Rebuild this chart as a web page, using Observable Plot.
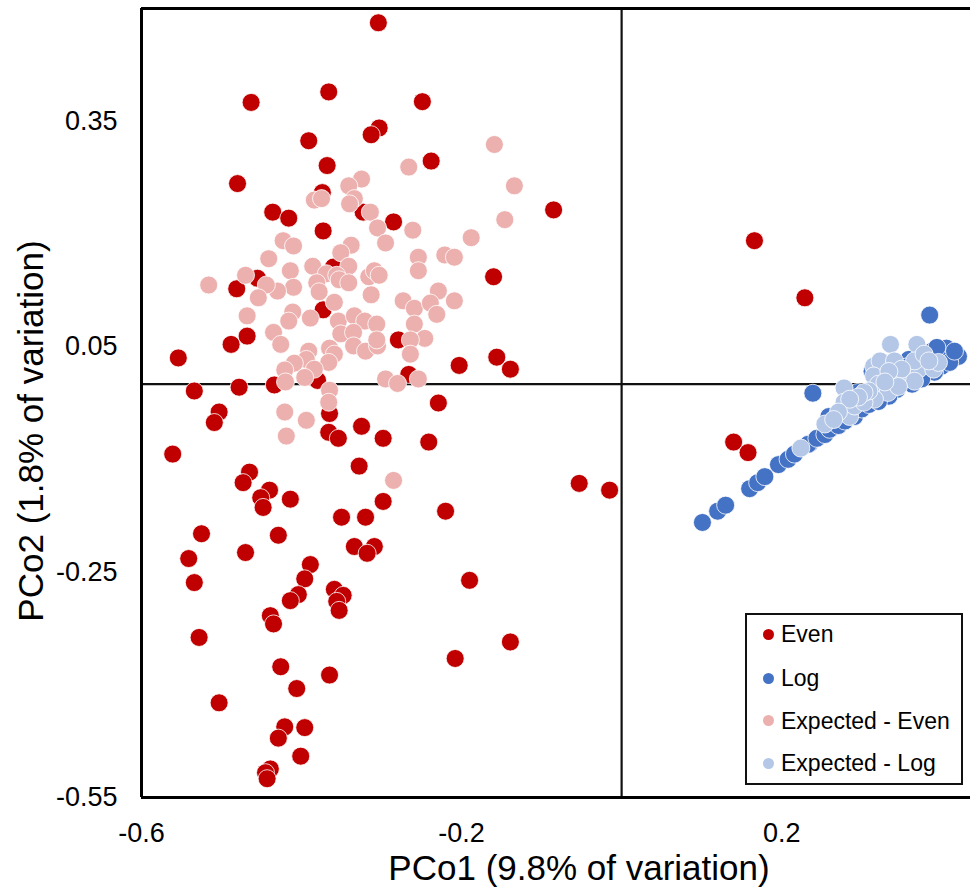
<!DOCTYPE html>
<html>
<head>
<meta charset="utf-8">
<script src="https://cdn.jsdelivr.net/npm/d3@7"></script>
<script src="https://cdn.jsdelivr.net/npm/@observablehq/plot@0.6"></script>
<style>
html, body { margin: 0; padding: 0; background: #fff; }
#wrap { position: relative; width: 970px; height: 892px; font-family: "Liberation Sans", Arial, sans-serif; }
#legend { position: absolute; left: 745px; top: 613px; width: 218px; height: 172px; border: 2px solid #111; background: #fff; box-sizing: border-box; }
.row { position: absolute; left: 0; height: 28px; width: 100%; font-size: 23px; color: #000; }
.row .dot { position: absolute; left: 16px; top: 8.5px; width: 11px; height: 11px; border-radius: 50%; }
.row .lab { position: absolute; left: 34px; top: 0; line-height: 28px; white-space: nowrap; }
</style>
</head>
<body>
<div id="wrap"><div id="chart"></div><div id="legend"></div></div>
<script>
// ---- Data (PCo1, PCo2) ----
const seriesNames = ["Even", "Log", "Expected - Even", "Expected - Log"];
const seriesColors = ["#C00000", "#4472C4", "#ECB0AF", "#B4C7E7"];

const even = [
  [-0.304,0.481],[-0.463,0.375],[-0.366,0.389],[-0.249,0.376],[-0.303,0.341],[-0.313,0.332],
  [-0.391,0.324],[-0.368,0.291],[-0.238,0.297],[-0.48,0.267],[-0.374,0.255],[-0.436,0.229],
  [-0.416,0.221],[-0.085,0.232],[-0.373,0.204],[-0.285,0.216],[-0.323,0.229],[-0.16,0.143],
  [-0.455,0.141],[-0.481,0.127],[-0.36,0.156],[-0.373,0.099],[-0.468,0.064],[-0.488,0.053],
  [-0.279,0.059],[-0.554,0.035],[-0.203,0.025],[-0.156,0.036],[-0.139,0.02],[-0.266,0.013],
  [-0.38,0.005],[-0.434,-0.001],[-0.478,-0.004],[-0.534,-0.009],[-0.229,-0.025],[-0.365,-0.039],
  [-0.503,-0.037],[-0.509,-0.051],[-0.325,-0.056],[-0.366,-0.064],[-0.354,-0.072],[-0.298,-0.072],
  [-0.241,-0.077],[-0.561,-0.093],[-0.465,-0.117],[-0.473,-0.131],[-0.44,-0.141],[-0.451,-0.151],
  [-0.448,-0.164],[-0.414,-0.153],[-0.525,-0.199],[-0.429,-0.201],[-0.541,-0.232],[-0.47,-0.224],
  [-0.534,-0.264],[-0.389,-0.24],[-0.396,-0.259],[-0.404,-0.28],[-0.328,-0.109],[-0.298,-0.156],
  [-0.35,-0.177],[-0.32,-0.177],[-0.22,-0.169],[-0.334,-0.216],[-0.309,-0.216],[-0.318,-0.225],
  [-0.414,-0.288],[-0.359,-0.273],[-0.348,-0.281],[-0.356,-0.289],[-0.353,-0.301],[-0.19,-0.261],
  [-0.439,-0.308],[-0.435,-0.319],[-0.139,-0.343],[-0.528,-0.337],[-0.208,-0.365],[-0.426,-0.376],
  [-0.365,-0.387],[-0.406,-0.405],[-0.503,-0.424],[-0.421,-0.456],[-0.396,-0.457],[-0.429,-0.471],
  [-0.401,-0.495],[-0.439,-0.512],[-0.445,-0.517],[-0.443,-0.525],[-0.053,-0.132],[-0.015,-0.141],
  [0.166,0.191],[0.229,0.115],[0.14,-0.077],[0.158,-0.091]
];

const log = [
  [0.385,0.092],[0.239,-0.012],[0.101,-0.184],[0.12,-0.169],[0.13,-0.161],[0.16,-0.139],
  [0.17,-0.131],[0.179,-0.123],[0.196,-0.107],[0.208,-0.1],[0.216,-0.093],[0.235,-0.079],
  [0.233,-0.08],[0.244,-0.072],[0.254,-0.067],[0.26,-0.06],[0.271,-0.055],[0.279,-0.049],
  [0.291,-0.043],[0.3,-0.033],[0.309,-0.027],[0.295,-0.011],[0.344,-0.007],[0.359,0.033],
  [0.388,0.044],[0.406,0.048],[0.421,0.037],[0.409,0.031],[0.4,0.024],[0.391,0.016],
  [0.375,0.007],[0.363,0.0],[0.334,-0.016],[0.321,-0.023],[0.259,-0.043],[0.396,0.036],
  [0.41,0.029],[0.313,0.017],[0.325,0.0],[0.35,0.017],[0.316,-0.007],[0.303,-0.017],
  [0.331,0.013],[0.356,0.023],[0.378,0.033],[0.394,0.049],[0.416,0.044]
];

const expectedEven = [
  [-0.159,0.319],[-0.266,0.289],[-0.134,0.264],[-0.325,0.273],[-0.341,0.264],[-0.334,0.247],
  [-0.34,0.24],[-0.384,0.245],[-0.375,0.247],[-0.314,0.229],[-0.305,0.208],[-0.261,0.205],
  [-0.146,0.219],[-0.188,0.195],[-0.295,0.188],[-0.338,0.185],[-0.351,0.175],[-0.423,0.191],
  [-0.41,0.184],[-0.441,0.167],[-0.47,0.145],[-0.516,0.132],[-0.414,0.151],[-0.386,0.157],
  [-0.341,0.157],[-0.369,0.147],[-0.356,0.145],[-0.353,0.139],[-0.341,0.135],[-0.381,0.135],
  [-0.41,0.129],[-0.43,0.124],[-0.444,0.132],[-0.454,0.115],[-0.378,0.123],[-0.359,0.109],
  [-0.313,0.119],[-0.316,0.143],[-0.309,0.151],[-0.303,0.145],[-0.254,0.169],[-0.254,0.151],
  [-0.221,0.172],[-0.209,0.169],[-0.229,0.124],[-0.209,0.111],[-0.273,0.111],[-0.259,0.101],
  [-0.239,0.108],[-0.231,0.093],[-0.259,0.08],[-0.246,0.061],[-0.264,0.059],[-0.264,0.04],
  [-0.468,0.091],[-0.411,0.096],[-0.416,0.084],[-0.389,0.088],[-0.435,0.069],[-0.426,0.053],
  [-0.354,0.084],[-0.334,0.091],[-0.321,0.084],[-0.306,0.08],[-0.351,0.067],[-0.335,0.069],
  [-0.335,0.051],[-0.32,0.044],[-0.305,0.051],[-0.306,0.059],[-0.365,0.048],[-0.359,0.04],
  [-0.366,0.029],[-0.391,0.044],[-0.394,0.033],[-0.409,0.028],[-0.384,0.02],[-0.421,0.019],
  [-0.396,0.009],[-0.42,0.003],[-0.295,0.007],[-0.28,0.001],[-0.254,0.007],[-0.365,-0.008],
  [-0.366,-0.024],[-0.421,-0.037],[-0.394,-0.048],[-0.419,-0.069],[-0.285,-0.128]
];

const expectedLog = [
  [0.336,0.053],[0.369,0.053],[0.278,-0.005],[0.254,-0.053],[0.224,-0.085],[0.285,-0.043],
  [0.278,-0.024],[0.291,-0.029],[0.315,0.024],[0.323,0.031],[0.341,0.031],[0.315,0.011],
  [0.321,0.0],[0.333,-0.011],[0.316,-0.02],[0.303,-0.024],[0.309,-0.009],[0.303,-0.011],
  [0.341,0.011],[0.353,0.007],[0.359,0.016],[0.371,0.02],[0.366,0.031],[0.378,0.04],
  [0.39,0.02],[0.396,0.029],[0.35,0.02],[0.334,0.017],[0.366,0.004],[0.346,-0.003],
  [0.329,0.003],[0.296,-0.017],[0.285,-0.02],[0.271,-0.037],[0.265,-0.047],[0.384,0.031]
];

// ---- Axes ----
const xDomain = [-0.6, 0.436];
const yDomain = [-0.55, 0.5];
const xTicks = [-0.6, -0.2, 0.2];
const yTicks = [-0.55, -0.25, 0.05, 0.35];
const xTitle = "PCo1 (9.8% of variation)";
const yTitle = "PCo2 (1.8% of variation)";

const fmt = d => (d < 0 ? "-" : "") + String(Math.abs(d));
const series = [even, log, expectedEven, expectedLog];

const dotMarks = series.map((pts, i) =>
  Plot.dot(pts, {x: d => d[0], y: d => d[1], r: 9, fill: seriesColors[i], stroke: "#fff", strokeWidth: 0.8})
);

const chart = Plot.plot({
  width: 970,
  height: 892,
  marginLeft: 141,
  marginRight: 0,
  marginTop: 8,
  marginBottom: 95,
  x: {domain: xDomain},
  y: {domain: yDomain},
  style: {fontFamily: "'Liberation Sans', Arial, sans-serif", fontSize: "27px", color: "#000", background: "#fff", overflow: "visible"},
  marks: [
    Plot.ruleX([0], {stroke: "#111", strokeWidth: 2.2}),
    Plot.ruleY([0], {stroke: "#111", strokeWidth: 2.2}),
    ...dotMarks,
    Plot.ruleX([xDomain[0]], {stroke: "#000", strokeWidth: 3}),
    Plot.ruleY(yDomain, {stroke: "#000", strokeWidth: 3}),
    Plot.axisX(xTicks, {tickSize: 0, tickPadding: 25, tickFormat: fmt, label: null, fontSize: 27}),
    Plot.axisY(yTicks, {tickSize: 0, tickPadding: 24, tickFormat: fmt, label: null, fontSize: 27}),
    Plot.text([xTitle], {text: d => d, frameAnchor: "bottom", textAnchor: "middle", lineAnchor: "middle", dx: 23, dy: 71, fontSize: 35}),
    Plot.text([yTitle], {text: d => d, frameAnchor: "left", textAnchor: "middle", lineAnchor: "middle", rotate: -90, dx: -110, dy: 28, fontSize: 35})
  ]
});
document.getElementById("chart").appendChild(chart);

// ---- Legend ----
const legend = document.getElementById("legend");
const rowCenters = [19, 63, 105.5, 148];
seriesNames.forEach((name, i) => {
  const row = document.createElement("div");
  row.className = "row";
  row.style.top = (rowCenters[i] - 14) + "px";
  const dot = document.createElement("span");
  dot.className = "dot";
  dot.style.background = seriesColors[i];
  const lab = document.createElement("span");
  lab.className = "lab";
  lab.textContent = name;
  row.appendChild(dot);
  row.appendChild(lab);
  legend.appendChild(row);
});
</script>
</body>
</html>
